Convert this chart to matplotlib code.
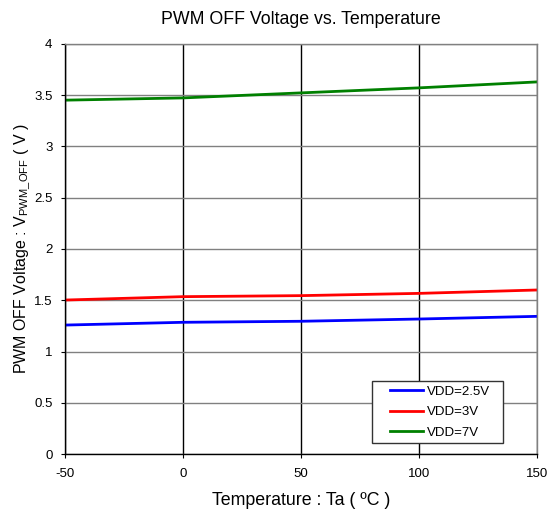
import matplotlib
matplotlib.use("Agg")
import matplotlib.pyplot as plt
from matplotlib.patches import Rectangle

plt.rcParams['font.family'] = ['Liberation Sans', 'DejaVu Sans']
plt.rcParams['mathtext.fontset'] = 'custom'
plt.rcParams['mathtext.rm'] = 'Liberation Sans'
plt.rcParams['mathtext.it'] = 'Liberation Sans'
plt.rcParams['axes.unicode_minus'] = False

temps = [-50, 0, 50, 100, 150]
vdd_25 = [1.258, 1.285, 1.295, 1.317, 1.343]
vdd_3 = [1.502, 1.535, 1.545, 1.567, 1.600]
vdd_7 = [3.451, 3.473, 3.522, 3.571, 3.629]
labels = ['VDD=2.5V', 'VDD=3V', 'VDD=7V']
colors = ['#0000ff', '#ff0000', '#008000']

fig = plt.figure(figsize=(5.56, 5.16), dpi=100)
ax = fig.add_axes([0.117, 0.120, 0.849, 0.795])

for ys, lab, c in zip([vdd_25, vdd_3, vdd_7], labels, colors):
    ax.plot(temps, ys, color=c, lw=2, label=lab)

ax.set_xlim(-50, 150)
ax.set_ylim(0, 4)
ax.set_xticks([-50, 0, 50, 100, 150])
ax.set_yticks([0, 0.5, 1, 1.5, 2, 2.5, 3, 3.5, 4])
ax.set_yticklabels(['0', '0.5', '1', '1.5', '2', '2.5', '3', '3.5', '4'])
ax.grid(axis='x', color='black', lw=1)
ax.grid(axis='y', color='#808080', lw=1)
ax.set_axisbelow(True)
for s in ax.spines.values():
    s.set_color('#808080')
    s.set_linewidth(1)
ax.spines['left'].set_color('black')
ax.spines['bottom'].set_color('black')
ax.tick_params(labelsize=9.5, length=3, direction='out', colors='black')
ax.tick_params(axis='x', pad=7)
ax.tick_params(axis='y', pad=6)

ax.set_title('PWM OFF Voltage vs. Temperature', fontsize=12.8, pad=14)
ax.set_xlabel('Temperature : Ta ( ºC )', fontsize=12.8, labelpad=9)
ax.set_ylabel(r'PWM OFF Voltage : V$_{\mathrm{PWM\_OFF}}$ ( V )', fontsize=11.5, labelpad=1.5)

ax.add_patch(Rectangle((0.650, 0.027), 0.278, 0.151, transform=ax.transAxes,
                       facecolor='white', edgecolor='#333333', lw=1, zorder=4))
leg = ax.legend(loc='upper left', bbox_to_anchor=(0.689, 0.167),
                fontsize=9.5, frameon=False, handlelength=2.5, borderpad=0,
                labelspacing=0.62, handletextpad=0.25, borderaxespad=0)
leg.set_zorder(5)

fig.savefig('out.png', dpi=100)
